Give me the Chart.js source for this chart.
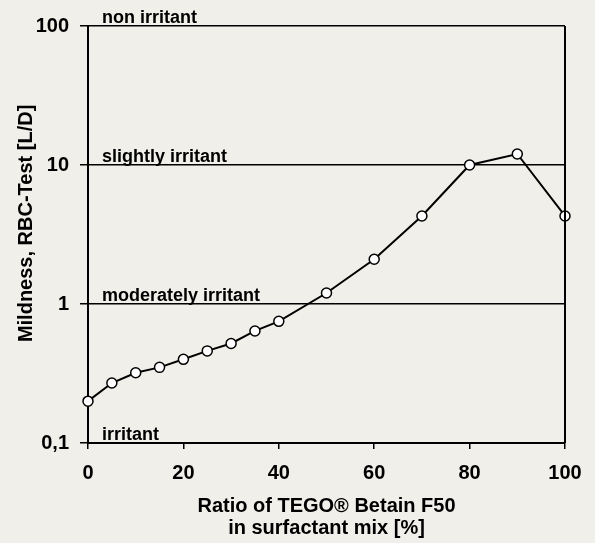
<!DOCTYPE html>
<html>
<head>
<meta charset="utf-8">
<script src="https://cdn.jsdelivr.net/npm/chart.js@4"></script>
<style>
  html, body { margin: 0; padding: 0; background: #f1efe9; }
  #wrap { width: 595px; height: 543px; }
</style>
</head>
<body>
<div id="wrap"><canvas id="rbcChart" width="595" height="543"></canvas></div>
<script>
// ratio of TEGO Betain F50 in surfactant mix [%]
const ratios = [0, 5, 10, 15, 20, 25, 30, 35, 40, 50, 60, 70, 80, 90, 100];
// mildness, RBC-Test L/D ratio
const mildness = [0.2, 0.27, 0.32, 0.35, 0.40, 0.46, 0.52, 0.64, 0.75, 1.2, 2.1, 4.3, 10, 12, 4.3];
const yTicks = [0.1, 1, 10, 100];
const zoneLabels = ['non irritant', 'slightly irritant', 'moderately irritant', 'irritant'];
const zoneValues = [100, 10, 1, 0.1];

const font = "'Liberation Sans', Arial, sans-serif";

const frameAndZones = {
    id: 'frameAndZones',
    afterDatasetsDraw(chart) {
        const c = chart.ctx;
        const area = chart.chartArea;
        const ys = chart.scales.y;
        c.save();
        c.strokeStyle = '#000';
        c.lineWidth = 2;
        c.beginPath();
        c.moveTo(area.right, area.top);
        c.lineTo(area.right, area.bottom);
        c.stroke();
        c.fillStyle = '#000';
        c.font = 'bold 18px ' + font;
        c.textBaseline = 'alphabetic';
        c.textAlign = 'left';
        zoneLabels.forEach((txt, i) => {
            c.fillText(txt, area.left + 14, ys.getPixelForValue(zoneValues[i]) - 3);
        });
        c.restore();
    }
};

const ctx = document.getElementById('rbcChart').getContext('2d');
const rbcChart = new Chart(ctx, {
    type: 'line',
    data: {
        datasets: [{
            data: ratios.map((r, i) => ({ x: r, y: mildness[i] })),
            borderColor: '#000',
            borderWidth: 2,
            pointRadius: 5,
            pointBackgroundColor: '#fff',
            pointBorderColor: '#000',
            pointBorderWidth: 1.5,
            tension: 0,
            clip: false
        }]
    },
    options: {
        responsive: false,
        animation: false,
        layout: { padding: { top: 26, right: 30, left: 0, bottom: 0 } },
        plugins: {
            legend: { display: false },
            tooltip: { enabled: false }
        },
        scales: {
            x: {
                type: 'linear',
                min: 0,
                max: 100,
                ticks: {
                    stepSize: 20,
                    color: '#000',
                    padding: 12,
                    font: { family: font, size: 20, weight: 'bold' }
                },
                grid: { drawOnChartArea: false, color: '#000', lineWidth: 1.5, tickLength: 6 },
                border: { color: '#000', width: 2 },
                title: {
                    display: true,
                    text: ['Ratio of TEGO® Betain F50', 'in surfactant mix [%]'],
                    color: '#000',
                    padding: { top: 0, bottom: 4 },
                    font: { family: font, size: 20, weight: 'bold', lineHeight: 1.08 }
                },
                afterFit(scale) { scale.height = 100; }
            },
            y: {
                type: 'logarithmic',
                min: 0.1,
                max: 100,
                afterBuildTicks(scale) {
                    scale.ticks = yTicks.map(v => ({ value: v }));
                },
                ticks: {
                    color: '#000',
                    padding: 11,
                    font: { family: font, size: 20, weight: 'bold' },
                    callback: v => String(v).replace('.', ',')
                },
                grid: { color: '#000', lineWidth: 1.5, tickLength: 8 },
                border: { color: '#000', width: 2 },
                title: {
                    display: true,
                    text: '    Mildness, RBC-Test [L/D]',
                    color: '#000',
                    padding: { top: 14, bottom: 0 },
                    font: { family: font, size: 20, weight: 'bold' }
                },
                afterFit(scale) { scale.width = 88; }
            }
        }
    },
    plugins: [frameAndZones]
});
</script>
</body>
</html>
